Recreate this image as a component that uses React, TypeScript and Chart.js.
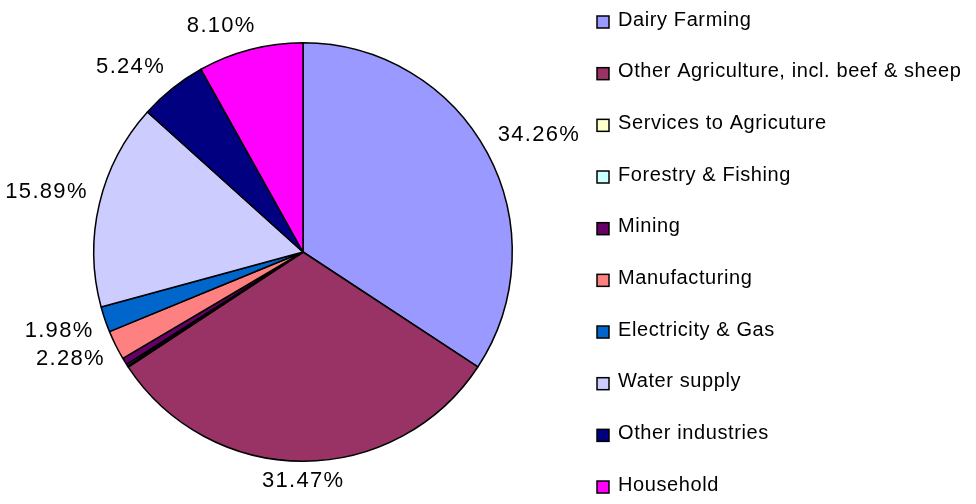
import React, { useEffect, useRef } from "react";
import { Chart, registerables } from "chart.js";

Chart.register(...registerables);

const categories = [
  "Dairy Farming",
  "Other Agriculture, incl. beef & sheep",
  "Services to Agricuture",
  "Forestry & Fishing",
  "Mining",
  "Manufacturing",
  "Electricity & Gas",
  "Water supply",
  "Other industries",
  "Household",
];
const shares = [34.26, 31.47, 0.12, 0.12, 0.54, 2.28, 1.98, 15.89, 5.24, 8.1];
const sliceColors = [
  "#9999FF",
  "#993366",
  "#FFFFCC",
  "#CCFFFF",
  "#660066",
  "#FF8080",
  "#0066CC",
  "#CCCCFF",
  "#000080",
  "#FF00FF",
];
const labelThreshold = 1;

const FONT = "'Liberation Sans', Arial, Helvetica, sans-serif";

const percentLabels = {
  id: "percentLabels",
  afterDatasetsDraw(chart: any) {
    const ctx = chart.ctx as CanvasRenderingContext2D;
    const meta = chart.getDatasetMeta(0);
    const data = chart.data.datasets[0].data as number[];
    ctx.save();
    ctx.font = `22px ${FONT}`;
    (ctx as any).letterSpacing = "1.3px";
    ctx.fillStyle = "#000";
    ctx.textAlign = "center";
    ctx.textBaseline = "middle";
    meta.data.forEach((arc: any, i: number) => {
      const v = data[i];
      if (v < labelThreshold) return;
      const p = arc.getProps(["x", "y", "startAngle", "endAngle", "outerRadius"], true);
      const mid = (p.startAngle + p.endAngle) / 2;
      const dx = Math.cos(mid);
      const dy = Math.sin(mid);
      const R = p.outerRadius + 12;
      const ax = p.x + dx * R;
      const ay = p.y + dy * R;
      const text = v.toFixed(2) + "%";
      const w = ctx.measureText(text).width;
      const h = 20;
      const sx = Math.max(-1, Math.min(1, dx * 3));
      const sy = Math.max(-1, Math.min(1, dy * 3));
      ctx.fillText(text, ax + (sx * w) / 2, ay + (sy * h) / 2 - 2);
    });
    ctx.restore();
  },
};

const sideLegend = {
  id: "sideLegend",
  afterDraw(chart: any) {
    const ctx = chart.ctx as CanvasRenderingContext2D;
    const labels = chart.data.labels as string[];
    const colors = chart.data.datasets[0].backgroundColor as string[];
    const boxX = 597;
    const textX = 618;
    const top = 20;
    const step = 51.67;
    ctx.save();
    ctx.font = `20px ${FONT}`;
    (ctx as any).letterSpacing = "0.6px";
    ctx.textAlign = "left";
    ctx.textBaseline = "middle";
    labels.forEach((lab, i) => {
      const y = top + i * step;
      ctx.fillStyle = colors[i];
      ctx.fillRect(boxX, y - 4, 12, 12);
      ctx.lineWidth = 1.5;
      ctx.strokeStyle = "#000";
      ctx.strokeRect(boxX, y - 4, 12, 12);
      ctx.fillStyle = "#000";
      ctx.fillText(lab, textX, y);
    });
    ctx.restore();
  },
};

export default function App() {
  const ref = useRef<HTMLCanvasElement | null>(null);
  useEffect(() => {
    if (!ref.current) return;
    const chart = new Chart(ref.current, {
      type: "pie",
      data: {
        labels: categories,
        datasets: [
          {
            data: shares,
            backgroundColor: sliceColors,
            borderColor: "#000",
            borderWidth: 1.5,
          },
        ],
      },
      options: {
        responsive: false,
        animation: false,
        layout: { padding: { left: 93, right: 463, top: 42, bottom: 42 } },
        plugins: {
          legend: { display: false },
          tooltip: { enabled: false },
        },
      },
      plugins: [percentLabels, sideLegend],
    });
    return () => chart.destroy();
  }, []);
  return (
    <div style={{ position: "absolute", left: 0, top: 0, width: 976, height: 504, background: "#fff" }}>
      <canvas ref={ref} width={976} height={504} />
    </div>
  );
}
